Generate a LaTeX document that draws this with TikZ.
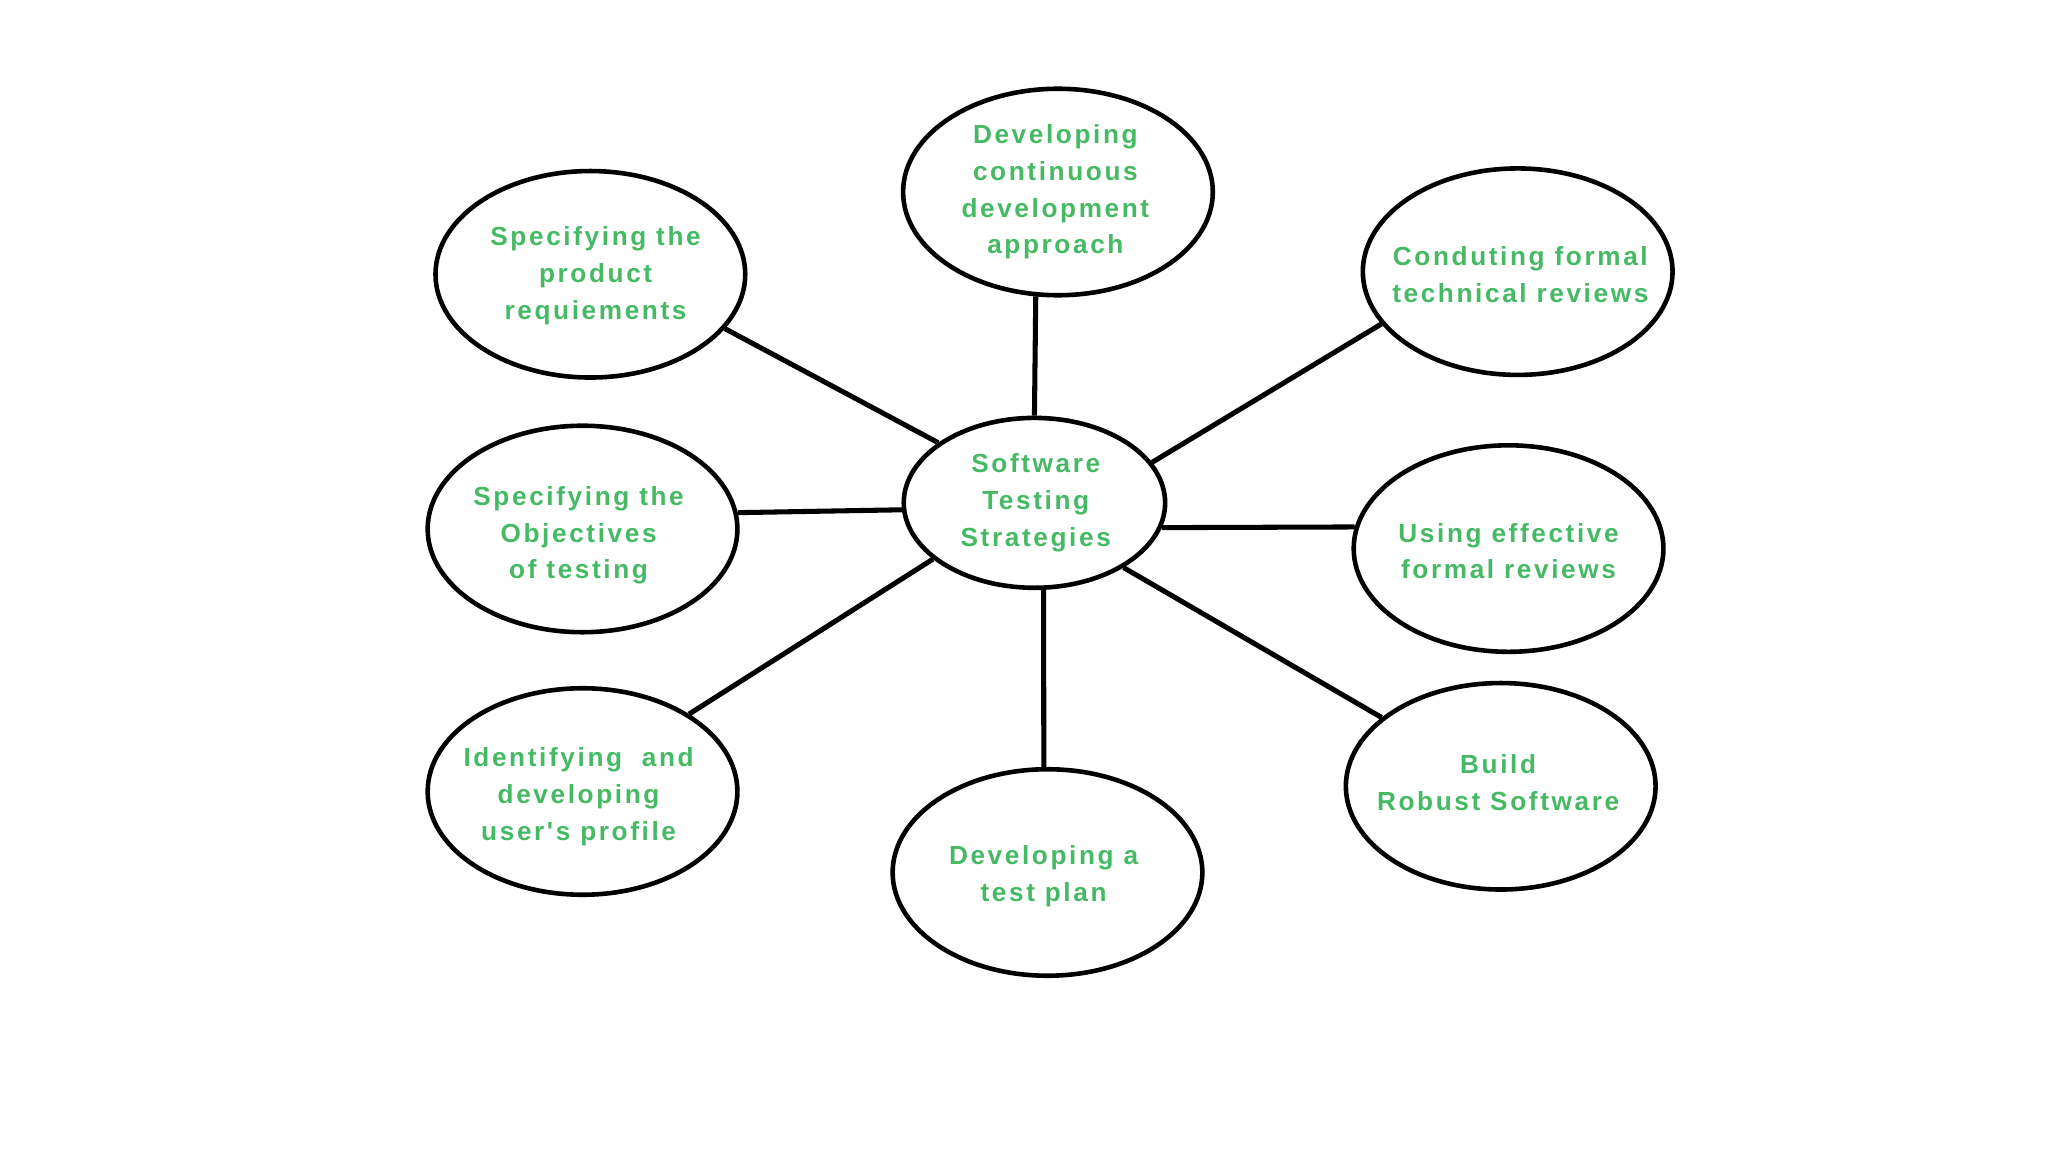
\documentclass[tikz,border=0pt]{standalone}
\usepackage{fontspec}
\newfontfamily\lblfont{Liberation Sans}[LetterSpace=10]
\usetikzlibrary{shapes.geometric}
\definecolor{lblgreen}{RGB}{70,185,100}
\tikzset{
  bub/.style={ellipse, draw=black, line width=1pt, minimum width=2.37cm, minimum height=1.58cm, inner sep=0pt},
  hub/.style={ellipse, draw=black, line width=1pt, minimum width=2.0cm, minimum height=1.30cm, inner sep=0pt},
  lbl/.style={text=lblgreen, font=\lblfont\bfseries\fontsize{5.7}{8}\selectfont, align=center, inner sep=0pt},
  link/.style={draw=black, line width=1.1pt}
}
\begin{document}
\begin{tikzpicture}[x=0.01cm, y=-0.01cm]
\useasboundingbox (0,0) rectangle (1568,882);
% ellipses
\node[hub] (c) at (792,385) {};
\node[bub] (t) at (810,147) {};
\node[bub] (tl) at (452,210) {};
\node[bub] (tr) at (1162,208) {};
\node[bub] (l) at (446,405) {};
\node[bub] (r) at (1155,420) {};
\node[bub] (bl) at (446,606) {};
\node[bub] (b) at (802,668) {};
\node[bub] (br) at (1149,602) {};
% connectors
\draw[link] (c.90) -- (t.258);
\draw[link] (c.148.6) -- (tl.338.7);
\draw[link] (c.19.5) -- (tr.201.8);
\draw[link] (c.183.4) -- (l.6.8);
\draw[link] (c.349) -- (r.172.3);
\draw[link] (c.276) -- (b.92);
\draw[link] (c.209.2) -- (bl.36.4);
\draw[link] (c.324) -- (br.150.7);
% labels
\node[lbl] (ct) at (793,385) {Software\\Testing\\Strategies};
\node[lbl] (tt) at (808,147) {Developing\\continuous\\development\\approach};
\node[lbl] (tlt) at (456,211) {Specifying the\\product\\requiements};
\node[lbl] (trt) at (1164,210) {Conduting formal\\technical reviews};
\node[lbl] (lt) at (443,410) {Specifying the\\Objectives\\of testing};
\node[lbl] (rt) at (1155,422) {Using effective\\formal reviews};
\node[lbl] (blt) at (443,610) {Identifying\ \ and\\developing\\user's profile};
\node[lbl] (bt) at (799,671) {Developing a\\test plan};
\node[lbl] (brt) at (1147,599) {Build\\Robust Software};
\end{tikzpicture}
\end{document}
